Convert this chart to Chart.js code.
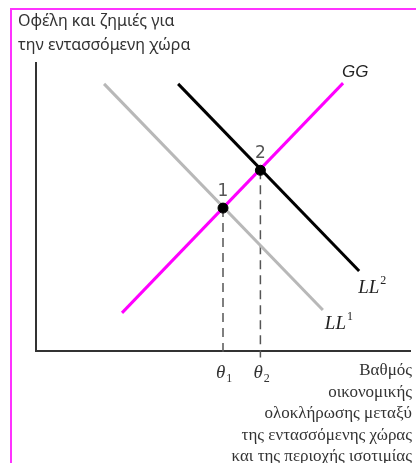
<!DOCTYPE html>
<html>
<head>
<meta charset="utf-8">
<script src="https://cdn.jsdelivr.net/npm/chart.js@4"></script>
<style>
  html, body { margin: 0; padding: 0; background: #fff; }
  #wrap { position: relative; width: 416px; height: 463px; }
</style>
</head>
<body>
<div id="wrap"><canvas id="chart"></canvas></div>
<script>
// curve end points (x = degree of integration, y = gains / losses)
const ll1X = [1.82, 7.67];
const ll1Y = [7.42, 1.14];
const ll2X = [3.80, 8.64];
const ll2Y = [7.42, 2.22];
const ggX = [2.30, 8.21];
const ggY = [1.06, 7.44];

// equilibria 1 and 2
const eqNames = ['1', '2'];
const eqX = [5, 6];
const eqY = [3.97, 5.02];
const thetaSubs = ['1', '2'];

const yTitle = ['Οφέλη και ζημιές για', 'την εντασσόμενη χώρα'];
const xTitle = ['Βαθμός', 'οικονομικής', 'ολοκλήρωσης μεταξύ', 'της εντασσόμενης χώρας', 'και της περιοχής ισοτιμίας'];

const toPts = (xs, ys) => xs.map((x, i) => ({ x: x, y: ys[i] }));

// dashed drop lines, running a little past the axis as tick marks
const drops = eqX.map((x, i) => ({
  data: [{ x: x, y: eqY[i] }, { x: x, y: -0.18 }],
  showLine: true,
  borderColor: '#555',
  borderWidth: 1.5,
  borderDash: [9, 6],
  pointRadius: 0,
  clip: false,
  order: 4
}));

function labelWithIndex(ctx, base, idx, x, y, font, small, up) {
  ctx.font = font;
  ctx.fillText(base, x, y);
  const w = ctx.measureText(base).width;
  ctx.font = small;
  ctx.fillText(idx, x + w + 1, up ? y - 9 : y + 4);
}

const frame = {
  id: 'frame',
  beforeDraw(chart) {
    const ctx = chart.ctx;
    ctx.save();
    ctx.strokeStyle = '#ff33ff';
    ctx.lineWidth = 2;
    ctx.beginPath();
    ctx.moveTo(11, 463);
    ctx.lineTo(11, 9);
    ctx.lineTo(416, 9);
    ctx.stroke();
    ctx.restore();
  }
};

const texts = {
  id: 'texts',
  afterDatasetsDraw(chart) {
    const ctx = chart.ctx;
    const sx = chart.scales.x, sy = chart.scales.y;
    ctx.save();
    ctx.fillStyle = '#333';
    ctx.textBaseline = 'alphabetic';

    // y title
    ctx.textAlign = 'left';
    ctx.font = '16px "Noto Sans"';
    yTitle.forEach((t, i) => ctx.fillText(t, 18, 26 + i * 24));

    // x title
    ctx.textAlign = 'right';
    ctx.font = '17px "Liberation Serif"';
    xTitle.forEach((t, i) => ctx.fillText(t, 412, 375 + i * 21.5));

    // equilibrium numbers and theta labels
    eqX.forEach((x, i) => {
      const px = sx.getPixelForValue(x), py = sy.getPixelForValue(eqY[i]);
      ctx.textAlign = 'center';
      ctx.fillStyle = '#555';
      ctx.font = '17px "DejaVu Sans"';
      ctx.fillText(eqNames[i], px, py - 12);
      ctx.fillStyle = '#333';
      ctx.textAlign = 'left';
      labelWithIndex(ctx, 'θ', thetaSubs[i], px - 7, 378,
        'italic 19px "Liberation Serif"', '12px "Liberation Serif"', false);
    });

    // curve names
    ctx.textAlign = 'left';
    ctx.fillStyle = '#222';
    ctx.font = 'italic 17px "Liberation Sans"';
    ctx.fillText('GG', sx.getPixelForValue(ggX[1]) - 1, sy.getPixelForValue(ggY[1]) - 6);
    labelWithIndex(ctx, 'LL', '2', sx.getPixelForValue(ll2X[1]) - 1, sy.getPixelForValue(ll2Y[1]) + 22,
      'italic 19px "Liberation Serif"', '12px "Liberation Serif"', true);
    labelWithIndex(ctx, 'LL', '1', sx.getPixelForValue(ll1X[1]) + 2, sy.getPixelForValue(ll1Y[1]) + 19,
      'italic 19px "Liberation Serif"', '12px "Liberation Serif"', true);
    ctx.restore();
  }
};

new Chart(document.getElementById('chart'), {
  type: 'scatter',
  data: {
    datasets: [
      { data: toPts(ll1X, ll1Y), showLine: true, borderColor: '#b8b8b8', borderWidth: 3, pointRadius: 0, order: 3 },
      { data: toPts(ll2X, ll2Y), showLine: true, borderColor: '#000', borderWidth: 3, pointRadius: 0, order: 2 },
      { data: toPts(ggX, ggY), showLine: true, borderColor: '#ff00ff', borderWidth: 3, pointRadius: 0, order: 1 },
      ...drops,
      { data: toPts(eqX, eqY), pointRadius: 5, pointBackgroundColor: '#000', pointBorderColor: '#000', order: 0 }
    ]
  },
  options: {
    responsive: true,
    maintainAspectRatio: false,
    animation: false,
    layout: { padding: { left: 36, right: 6, top: 63, bottom: 112 } },
    plugins: { legend: { display: false }, tooltip: { enabled: false } },
    scales: {
      x: {
        type: 'linear', min: 0, max: 10,
        ticks: { display: false },
        grid: { display: false },
        border: { display: true, color: '#333', width: 2 },
        afterFit: (s) => { s.height = 0; }
      },
      y: {
        type: 'linear', min: 0, max: 8,
        ticks: { display: false },
        grid: { display: false },
        border: { display: true, color: '#333', width: 2 },
        afterFit: (s) => { s.width = 0; }
      }
    }
  },
  plugins: [frame, texts]
});
</script>
</body>
</html>
